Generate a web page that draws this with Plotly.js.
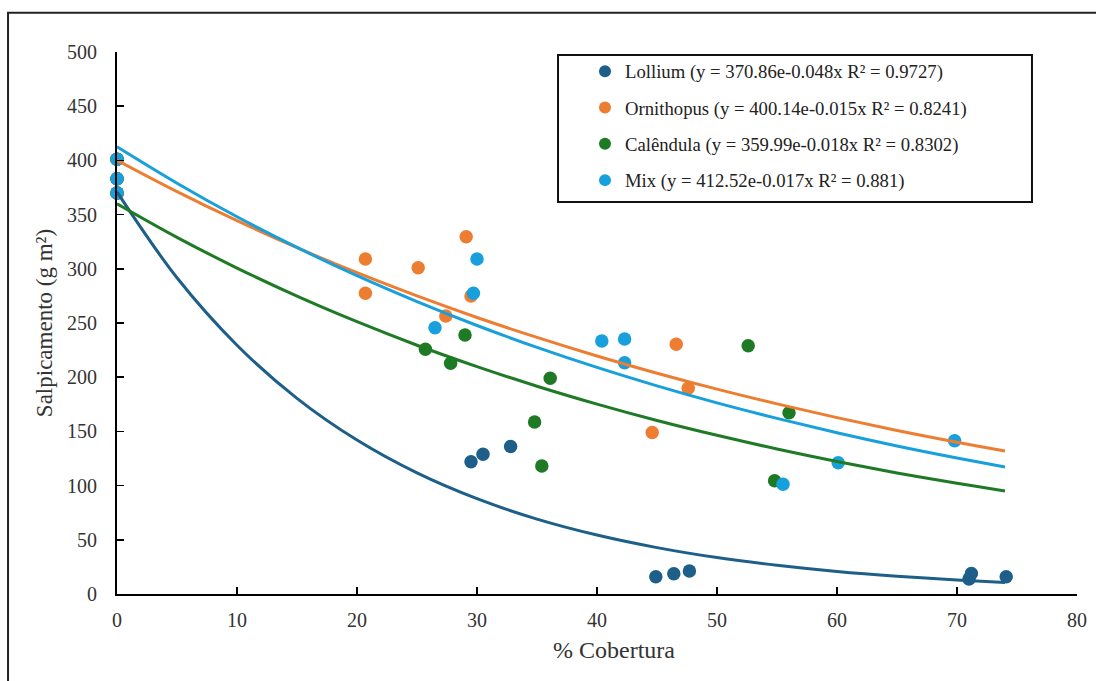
<!DOCTYPE html>
<html>
<head>
<meta charset="utf-8">
<script src="https://cdn.plot.ly/plotly-3.0.1.min.js"></script>
<style>html,body{margin:0;padding:0;background:#fff;}#chart{width:1096px;height:681px;}</style>
</head>
<body>
<div id="chart"></div>
<script>
// Observed points (x = % Cobertura, y = Salpicamento)
const lolliumX = [0, 0, 0, 29.5, 30.5, 32.8, 44.9, 46.4, 47.7, 71.0, 71.2, 74.1];
const lolliumY = [401, 383, 370, 122, 129, 136, 16, 18.7, 21.2, 13.8, 19, 16];

const ornithopusX = [0, 0, 0, 20.7, 20.7, 25.1, 29.1, 27.4, 29.5, 46.6, 47.6, 44.6];
const ornithopusY = [401, 383, 370, 309, 277.4, 301, 329.6, 256.5, 275, 230.3, 189.8, 149];

const calendulaX = [0, 0, 0, 25.7, 27.8, 29.0, 36.1, 34.8, 35.4, 52.6, 56.0, 54.8];
const calendulaY = [401, 383, 370, 225.7, 212.8, 239, 199, 158.7, 118, 229, 167.3, 104.5];

const mixX = [0, 0, 0, 26.5, 29.7, 30.0, 40.4, 42.3, 42.3, 55.5, 60.1, 69.8];
const mixY = [401, 383, 370, 245.7, 277.4, 309, 233.4, 235.2, 213.4, 101.2, 121.1, 141.4];

// Trend lines (exponential fits as drawn), read at regular x positions
const fitX = [0, 5, 10, 15, 20, 25, 30, 35, 40, 45, 50, 55, 60, 65, 70, 74];
const lolliumFit = [370.9, 291.7, 229.5, 180.5, 142.0, 111.7, 87.9, 69.1, 54.4, 42.8, 33.6, 26.5, 20.8, 16.4, 12.9, 10.6];
const ornithopusFit = [400.1, 371.2, 344.4, 319.5, 296.4, 275.0, 255.1, 236.7, 219.6, 203.7, 189.0, 175.4, 162.7, 150.9, 140.0, 131.9];
const calendulaFit = [360.0, 329.0, 300.7, 274.8, 251.2, 229.5, 209.8, 191.7, 175.2, 160.1, 146.4, 133.8, 122.3, 111.7, 102.1, 95.0];
const mixFit = [412.5, 378.9, 348.0, 319.7, 293.6, 269.7, 247.7, 227.5, 209.0, 192.0, 176.3, 162.0, 148.8, 136.6, 125.5, 117.2];

const names = [
  'Lollium (y = 370.86e-0.048x R² = 0.9727)',
  'Ornithopus (y = 400.14e-0.015x R² = 0.8241)',
  'Calêndula (y = 359.99e-0.018x R² = 0.8302)',
  'Mix (y = 412.52e-0.017x R² = 0.881)'
];
const colors = ['#1d5f88', '#ed7d31', '#1f7a26', '#17a0dc'];

const xs = [lolliumX, ornithopusX, calendulaX, mixX];
const ys = [lolliumY, ornithopusY, calendulaY, mixY];
const fits = [lolliumFit, ornithopusFit, calendulaFit, mixFit];

const traces = [];
for (let i = 0; i < 4; i++) {
  traces.push({
    x: xs[i], y: ys[i], type: 'scatter', mode: 'markers', name: names[i],
    legendgroup: 'g' + i, cliponaxis: false,
    marker: {color: colors[i], size: 13.5}
  });
}
for (let i = 0; i < 4; i++) {
  traces.push({
    x: fitX, y: fits[i], type: 'scatter', mode: 'lines', showlegend: false,
    legendgroup: 'g' + i, hoverinfo: 'skip', cliponaxis: false,
    line: {color: colors[i], width: 3, shape: 'spline'}
  });
}

const serif = '"Liberation Serif", serif';
const layout = {
  width: 1096, height: 681,
  margin: {l: 117, r: 19, t: 52, b: 87},
  paper_bgcolor: '#fff', plot_bgcolor: '#fff',
  font: {family: serif, color: '#222', size: 18},
  showlegend: true,
  legend: {
    x: 0.4875, y: 0.999, xanchor: 'left', yanchor: 'top',
    bgcolor: 'rgba(0,0,0,0)', borderwidth: 0,
    font: {family: serif, size: 18.7, color: '#222'},
    tracegroupgap: 9, itemsizing: 'constant'
  },
  xaxis: {
    range: [0, 80], dtick: 10, tick0: 0,
    ticks: 'inside', ticklen: 7, tickwidth: 1.5, tickcolor: '#000',
    showline: true, linecolor: '#000', linewidth: 2,
    showgrid: false, zeroline: false,
    tickfont: {family: serif, size: 20, color: '#333'},
    ticklabelstandoff: 7
  },
  yaxis: {
    range: [0, 500], dtick: 50, tick0: 0,
    ticks: 'inside', ticklen: 7, tickwidth: 1.5, tickcolor: '#000',
    showline: true, linecolor: '#000', linewidth: 2,
    showgrid: false, zeroline: false,
    tickfont: {family: serif, size: 20, color: '#333'},
    ticklabelstandoff: 14,
    title: {text: 'Salpicamento (g m²)', font: {family: serif, size: 23, color: '#333'}, standoff: 8}
  },
  annotations: [
    {text: '% Cobertura', xref: 'paper', yref: 'paper', x: 0.5177, y: -0.1033,
     xanchor: 'center', yanchor: 'middle', showarrow: false,
     font: {family: serif, size: 24, color: '#333'}}
  ],
  shapes: [
    {type: 'rect', xref: 'paper', yref: 'paper', x0: -0.1135, x1: 1.03, y0: -0.2, y1: 1.0725,
     line: {color: '#222', width: 2}, fillcolor: 'rgba(0,0,0,0)', layer: 'below'},
    {type: 'rect', xref: 'paper', yref: 'paper', x0: 0.4594, x1: 0.9531, y0: 0.7232, y1: 0.9945,
     line: {color: '#111', width: 2}, fillcolor: 'rgba(0,0,0,0)'}
  ]
};

Plotly.newPlot('chart', traces, layout, {displayModeBar: false, staticPlot: true});
</script>
</body>
</html>
